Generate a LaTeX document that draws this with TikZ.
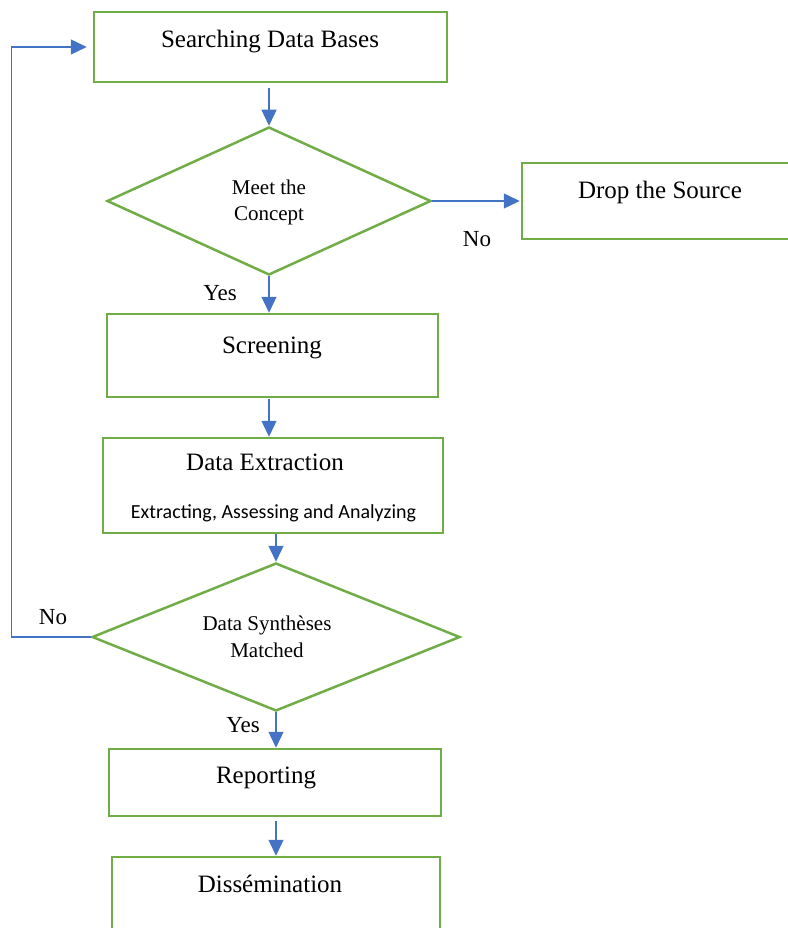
\documentclass[tikz,border=0pt]{standalone}
\usepackage{fontspec}
\setmainfont{Liberation Serif}
\newfontfamily\calib{Carlito}
\usetikzlibrary{shapes.geometric,arrows.meta}
\definecolor{gbox}{RGB}{112,173,71}
\definecolor{barrow}{RGB}{68,114,196}
\tikzset{
  boxnode/.style={draw=gbox,line width=2.5pt,rectangle,inner sep=0pt},
  dianode/.style={draw=gbox,line width=2.5pt,diamond,inner sep=0pt},
  txt/.style={anchor=base,inner sep=0pt,font=\fontsize{25}{28}\selectfont},
  dtxt/.style={anchor=base,inner sep=0pt,font=\fontsize{21}{24}\selectfont},
  lbl/.style={anchor=base,inner sep=0pt,font=\fontsize{23}{26}\selectfont},
  arr/.style={draw=barrow,line width=1.3pt,-{Triangle[length=16pt,width=15pt]},fill=none},
}
\begin{document}
\begin{tikzpicture}[x=1pt,y=-1pt]
\useasboundingbox (0,0) rectangle (787,928);
% boxes
\node[boxnode,minimum width=353pt,minimum height=70pt] (search) at (270.5,47) {};
\node[dianode,minimum width=324pt,minimum height=148pt] (d1) at (269,201) {};
\node[boxnode,minimum width=278pt,minimum height=76pt] (drop) at (661,201) {};
\node[boxnode,minimum width=331pt,minimum height=83pt] (screen) at (272.5,355.5) {};
\node[boxnode,minimum width=340pt,minimum height=95pt] (extract) at (273,485.5) {};
\node[dianode,minimum width=368pt,minimum height=148pt] (d2) at (276,637) {};
\node[boxnode,minimum width=332pt,minimum height=67pt] (report) at (275,782.5) {};
\node[boxnode,minimum width=328pt,minimum height=83pt] (dissem) at (276,898.5) {};
% texts
\node[txt] (tsearch) at (270,48) {Searching Data Bases};
\node[dtxt] (td1a) at (269,194) {Meet the};
\node[dtxt] (td1b) at (269,220) {Concept};
\node[txt] (tdrop) at (660,198) {Drop the Source};
\node[txt] (tscreen) at (272,353) {Screening};
\node[txt] (text1) at (265,470) {Data Extraction};
\node[anchor=base,inner sep=0pt,font=\calib\fontsize{20}{23}\selectfont] (text2) at (273.5,518) {Extracting, Assessing and Analyzing};
\node[dtxt] (td2a) at (267,630) {Data Synthèses};
\node[dtxt] (td2b) at (267,657) {Matched};
\node[txt] (treport) at (266,783) {Reporting};
\node[txt] (tdissem) at (270,892) {Dissémination};
% labels
\node[lbl] (no1) at (477,246) {No};
\node[lbl] (yes1) at (220,300) {Yes};
\node[lbl] (no2) at (53,624) {No};
\node[lbl] (yes2) at (243,732) {Yes};
% connectors
\coordinate (lp) at (11.5,637);
\draw[arr] ([yshift=-5pt]search.south -| d1.north) -- (d1.north);
\draw[arr] (d1.east) -- ([xshift=-1pt]drop.west);
\draw[arr] (d1.south) -- (d1.south |- screen.north);
\draw[arr] ([yshift=-1pt]screen.south -| d1.south) -- (extract.north -| d1.south);
\draw[arr] (extract.south -| d2.north) -- (d2.north);
\draw[arr] (d2.south) -- (d2.south |- report.north);
\draw[arr] ([yshift=-4pt]report.south -| d2.south) -- (d2.south |- dissem.north);
\draw[arr] (d2.west) -- (lp) |- ([xshift=-6pt]search.west);
\end{tikzpicture}
\end{document}
